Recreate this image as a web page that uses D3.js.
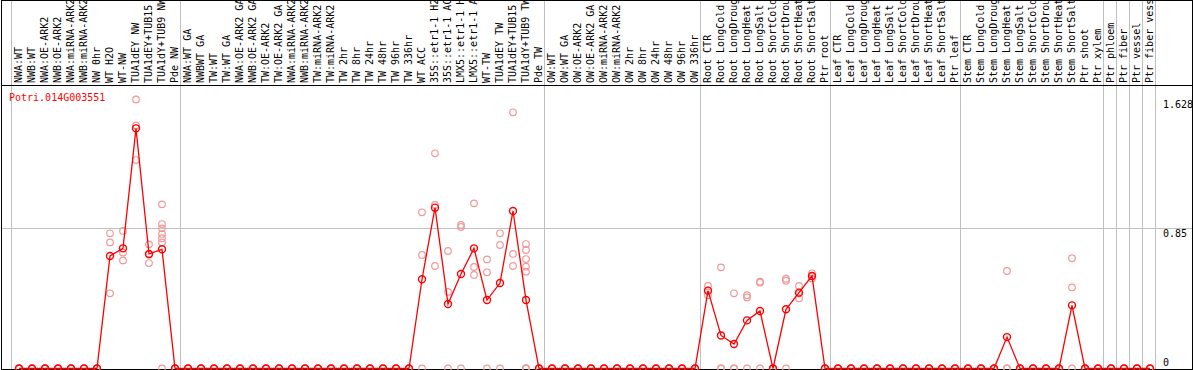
<!DOCTYPE html>
<html>
<head>
<meta charset="utf-8">
<script src="https://cdn.jsdelivr.net/npm/d3@7"></script>
<style>
  html, body { margin: 0; padding: 0; background: #fff; }
  svg { display: block; }
  text { font-family: "DejaVu Sans Mono", monospace; font-size: 10px; }
</style>
</head>
<body>
<svg id="chart" width="1194" height="370"></svg>
<script>
const title = "Potri.014G003551";

const categories = [
  "NWA:WT","NWB:WT","NWA:OE-ARK2","NWB:OE-ARK2","NWA:miRNA-ARK2","NWB:miRNA-ARK2","NW 0hr","WT H2O","WT-NW","TUA1dEY NW","TUA1dEY+TUB15","TUA1dY+TUB9 NW","Pde NW",
  "NWA:WT GA","NWBWT GA","TW:WT","TW:WT GA","NWA:OE-ARK2 GA","NWB:OE-ARK2 GA","TW:OE-ARK2","TW:OE-ARK2 GA","NWA:miRNA-ARK2","NWB:miRNA-ARK2","TW:miRNA-ARK2","TW:miRNA-ARK2","TW 2hr","TW 8hr","TW 24hr","TW 48hr","TW 96hr","TW 336hr","WT ACC","35S::etr1-1 H2","35S::etr1-1 AC","LMX5::etr1-1 H","LMX5::etr1-1 A","WT-TW","TUA1dEY TW","TUA1dEY+TUB15","TUA1dY+TUB9 TW","Pde TW",
  "OW:WT","OW:WT GA","OW:OE-ARK2","OW:OE-ARK2 GA","OW:miRNA-ARK2","OW:miRNA-ARK2","OW 2hr","OW 8hr","OW 24hr","OW 48hr","OW 96hr","OW 336hr",
  "Root CTR","Root LongCold","Root LongDroug","Root LongHeat","Root LongSalt","Root ShortCold","Root ShortDrou","Root ShortHeat","Root ShortSalt","Ptr root",
  "Leaf CTR","Leaf LongCold","Leaf LongDroug","Leaf LongHeat","Leaf LongSalt","Leaf ShortCold","Leaf ShortDrou","Leaf ShortHeat","Leaf ShortSalt","Ptr leaf",
  "Stem CTR","Stem LongCold","Stem LongDroug","Stem LongHeat","Stem LongSalt","Stem ShortCold","Stem ShortDrou","Stem ShortHeat","Stem ShortSalt","Ptr shoot","Ptr xylem",
  "Ptr phloem","Ptr fiber","Ptr vessel","Ptr fiber vess"
];

// index of first category of each group, plus the end
const groupStarts = [0, 13, 41, 53, 63, 73, 84, 85, 86, 87, 88];

const means = [
  0,0,0,0,0,0,0,0.681,0.727,1.453,0.693,0.721,0,
  0,0,0,0,0,0,0,0,0,0,0,0,0,0,0,0,0,0,0.54,0.973,0.39,0.572,0.727,0.414,0.517,0.953,0.414,0,
  0,0,0,0,0,0,0,0,0,0,0,0,
  0.471,0.2,0.148,0.291,0.348,0,0.358,0.459,0.56,0,
  0,0,0,0,0,0,0,0,0,0,
  0,0,0,0.19,0,0,0,0,0.382,0,0,
  0,0,0,0
];

const replicates = [
  [0,0,0],[0,0,0],[0,0,0],[0,0,0],[0,0,0],[0,0,0],[0,0,0],
  [0.818,0.763,0.455],[0.832,0.701,0.654],[1.628,1.47,1.261],[0.751,0.69,0.638],
  [0.993,0.874,0.848,0.814,0.788,0.763,0],[0,0,0],
  [0,0,0],[0,0,0],[0,0,0],[0,0,0],[0,0,0],[0,0,0],[0,0,0],[0,0,0],[0,0,0],[0,0,0],[0,0,0],[0,0,0],
  [0,0,0],[0,0,0],[0,0,0],[0,0,0],[0,0,0],[0,0,0],
  [0.945,0.687,0],[1.302,0.989,0.62],[0.711,0.463,0],[0.868,0.856,0],[0.999,0.614,0.566],
  [0.66,0.582,0],[0.818,0.747,0],[1.55,0.693,0.62],[0.753,0.717,0.662,0.616,0.586,0,0,0],[0,0,0],
  [0,0,0],[0,0,0],[0,0,0],[0,0,0],[0,0,0],[0,0,0],[0,0,0],[0,0,0],[0,0,0],[0,0,0],[0,0,0],[0,0,0],
  [0.499,0.471,0.443],[0.612,0,0],[0.455,0,0],[0.443,0.43,0],[0.525,0.519,0],[0,0,0],
  [0.543,0.531,0],[0.499,0.453,0.425],[0.576,0.56,0.545],[0,0,0],
  [0,0,0],[0,0,0],[0,0,0],[0,0,0],[0,0,0],[0,0,0],[0,0,0],[0,0,0],[0,0,0],[0,0,0],
  [0,0,0],[0,0,0],[0,0,0],[0.59,0,0],[0,0,0],[0,0,0],[0,0,0],[0,0,0],[0.667,0.491,0],[0,0,0],[0,0,0],
  [0,0,0],[0,0,0],[0,0,0],[0,0,0]
];

const tickValues = [0, 0.85, 1.628];
const tickLabels = ["0", "0.85", "1.628"];
const gridValues = [0.85];

const svg = d3.select("#chart");
const W = 1194, H = 370;
const labelBottom = 86, plotBottom = 369;

const idx = d3.range(categories.length);
const x = d3.scaleBand().domain(idx).range([11, 11 + 13 * categories.length]).padding(0);
const px = i => x(i) + 8;
const y = d3.scaleLinear().domain([0, 1.628]).range([368.5, 99.4]);

// vertical group separators
svg.append("g").selectAll("line").data(groupStarts).join("line")
  .attr("x1", d => (d < categories.length ? x(d) : x.range()[1]) + 0.5)
  .attr("x2", d => (d < categories.length ? x(d) : x.range()[1]) + 0.5)
  .attr("y1", 0).attr("y2", plotBottom)
  .attr("stroke", "#c0c0c0").attr("stroke-width", 1);

// horizontal grid line(s)
svg.append("g").selectAll("line").data(gridValues).join("line")
  .attr("x1", 1).attr("x2", W - 1)
  .attr("y1", d => Math.round(y(d)) + 0.5).attr("y2", d => Math.round(y(d)) + 0.5)
  .attr("stroke", "#c0c0c0").attr("stroke-width", 1);

// borders
svg.append("rect").attr("x", 1.5).attr("y", 0.5).attr("width", W - 3).attr("height", plotBottom)
  .attr("fill", "none").attr("stroke", "#000").attr("stroke-width", 1);
svg.append("line").attr("x1", 1).attr("x2", W - 1).attr("y1", labelBottom - 0.5).attr("y2", labelBottom - 0.5)
  .attr("stroke", "#000").attr("stroke-width", 1);

// category labels, reading bottom-to-top, starting just above the separator line
svg.append("g").attr("transform", "rotate(-90)")
  .selectAll("text").data(idx).join("text")
  .attr("x", -83)
  .attr("y", i => px(i) + 3)
  .attr("text-anchor", "start")
  .attr("fill", "#000")
  .text(i => categories[i]);

// right axis labels
svg.append("g").selectAll("text").data(tickValues).join("text")
  .attr("x", 1163)
  .attr("y", (d, i) => d === 0 ? y(d) - 3 : y(d) + 9)
  .attr("fill", "#000")
  .text((d, i) => tickLabels[i]);

// title
svg.append("text").attr("x", 9).attr("y", 101).attr("fill", "#ff0000").text(title);

// replicate points
const repData = [];
replicates.forEach((arr, i) => arr.forEach(v => repData.push({ i, v })));
svg.append("g").selectAll("circle").data(repData).join("circle")
  .attr("cx", d => px(d.i)).attr("cy", d => y(d.v)).attr("r", 3.3)
  .attr("fill", "none").attr("stroke", "#ef9a9a").attr("stroke-width", 1.2);

// mean line
const line = d3.line().x(i => px(i)).y(i => y(means[i]));
svg.append("path").datum(idx).attr("d", line)
  .attr("fill", "none").attr("stroke", "#ff0000").attr("stroke-width", 1.3);

// mean points
svg.append("g").selectAll("circle").data(idx).join("circle")
  .attr("cx", i => px(i)).attr("cy", i => y(means[i])).attr("r", 3.5)
  .attr("fill", "none").attr("stroke", "#ff0000").attr("stroke-width", 1.4);
</script>
</body>
</html>
